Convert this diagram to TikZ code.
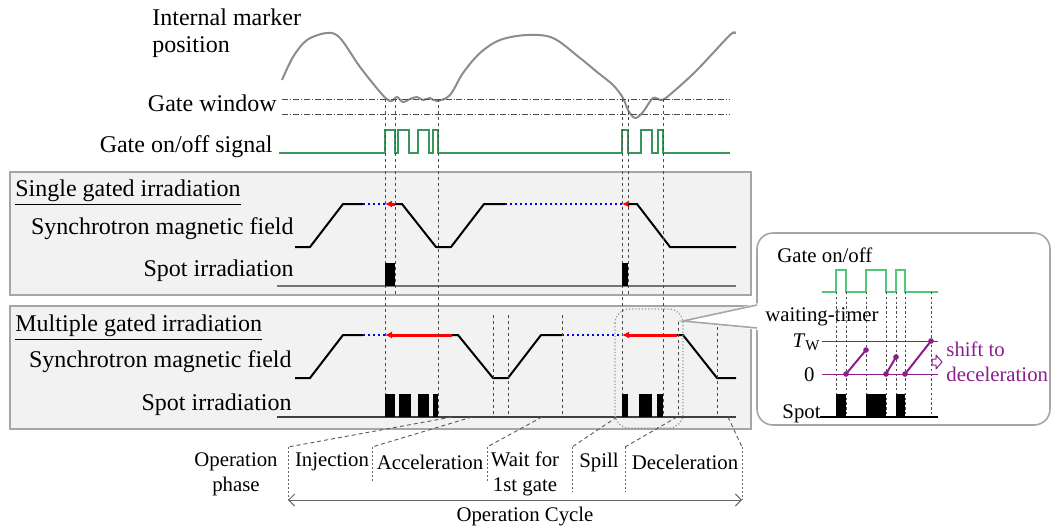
\documentclass[tikz,border=0pt]{standalone}
\usepackage{fontspec}
\setmainfont{Liberation Serif}
\usetikzlibrary{arrows.meta}

\definecolor{gatecol}{RGB}{56,150,90}
\definecolor{gatelite}{RGB}{80,200,120}
\definecolor{timercol}{RGB}{140,30,140}
\definecolor{boxfill}{RGB}{242,242,242}
\definecolor{boxline}{RGB}{166,166,166}

\begin{document}
\begin{tikzpicture}[x=0.5pt,y=-0.5pt,
	txt/.style={font=\fontsize{12}{13.5}\selectfont,inner sep=0pt},
	smalltxt/.style={font=\fontsize{10.4}{12.5}\selectfont,inner sep=0pt},
	panel/.style={draw=boxline,fill=boxfill,line width=0.7pt},
	field/.style={line width=1pt,line join=round},
	waitline/.style={blue,line width=1pt,dash pattern=on 0.9pt off 1.6pt},
	beam/.style={red,line width=1.5pt,{Latex[length=3.5pt,width=3.5pt]}-},
	gateguide/.style={black!70,line width=0.45pt,dash pattern=on 1.6pt off 1.4pt},
	phasesep/.style={black!60,line width=0.45pt,dash pattern=on 1pt off 1pt},
	phaselink/.style={black!65,line width=0.45pt,dash pattern=on 2pt off 1.5pt},
	gatesig/.style={gatecol,line width=0.8pt},
	spotline/.style={black!55,line width=0.75pt},
	timerline/.style={timercol,line width=1pt},
	tdot/.style={circle,fill=timercol,inner sep=0pt,minimum size=2.8pt}]

	\useasboundingbox (0,0) rectangle (1053,531);

	% marker, gate window and gate signal
	\node[txt,anchor=west,align=left] (marker) at (152,33) {Internal marker\\position};
	\node[txt,anchor=east] (window) at (277,103) {Gate window};
	\node[txt,anchor=east] (signal) at (273,147) {Gate on/off signal};

	\draw[black!45,line width=1pt] plot[smooth,tension=0.55] coordinates {
		(282,80) (293,57) (307,40) (327,33) (340,38) (360,67) (380,92) (388,100)
		(392,101) (397,97) (403,102) (410,99) (417,97) (423,100) (430,98) (437,101)
		(450,95) (463,73) (480,53) (500,40) (527,35) (553,38) (580,58) (597,72)
		(613,85) (623,98) (628,110) (635,118) (643,112) (653,98) (662,100)
		(673,92) (697,70) (730,35) (735,34)};
	\draw[black!70,line width=0.45pt,densely dashdotted] (282,99) -- (730,99);
	\draw[black!70,line width=0.45pt,densely dashdotted] (282,114) -- (730,114);

	\draw[gatesig] (279,153) -- (385,153) -- (385,130) -- (395,130) -- (395,153)
		-- (398,153) -- (398,130) -- (409,130) -- (409,153) -- (418,153) -- (418,130)
		-- (429,130) -- (429,153) -- (433,153) -- (433,130) -- (438,130) -- (438,153)
		-- (622,153) -- (622,130) -- (628,130) -- (628,153) -- (641,153) -- (641,130)
		-- (652,130) -- (652,153) -- (658,153) -- (658,130) -- (663,130) -- (663,153)
		-- (730,153);

	% single gated irradiation
	\draw[panel] (10,172) rectangle (751,295);
	\node[txt,anchor=west] (single) at (15,193) {\underline{Single gated irradiation}};
	\node[txt,anchor=east] (fieldA) at (294,229) {Synchrotron magnetic field};
	\node[txt,anchor=east] (spotA) at (294,271) {Spot irradiation};

	\draw[field] (295,247) -- (310,247) -- (343,204) -- (363,204);
	\draw[waitline] (363,204) -- (385,204);
	\draw[beam] (385,204) -- (395,204);
	\draw[field] (395,204) -- (402,204) -- (436,247) -- (451,247) -- (484,204) -- (505,204);
	\draw[waitline] (505,204) -- (622,204);
	\draw[beam] (622,204) -- (628,204);
	\draw[field] (628,204) -- (637,204) -- (670,247) -- (736,247);
	\draw[spotline] (277,286) -- (736,286);

	% multiple gated irradiation
	\draw[panel] (10,306) rectangle (751,429);
	\node[txt,anchor=west] (multiple) at (15,328) {\underline{Multiple gated irradiation}};
	\node[txt,anchor=east] (fieldB) at (292,362) {Synchrotron magnetic field};
	\node[txt,anchor=east] (spotB) at (292,405) {Spot irradiation};

	\draw[field] (295,378) -- (310,378) -- (343,335) -- (363,335);
	\draw[waitline] (363,335) -- (385,335);
	\draw[beam] (385,335) -- (452,335);
	\draw[field] (452,335) -- (458,335) -- (493,378) -- (508,378) -- (541,335) -- (562,335);
	\draw[waitline] (562,335) -- (622,335);
	\draw[beam] (622,335) -- (677,335);
	\draw[field] (677,335) -- (683,335) -- (717,378) -- (736,378);
	\draw[spotline,black!75] (277,417) -- (736,417);

	% gate guides
	\foreach \x in {385,438,622,663}
		\draw[gateguide] (\x,99) -- (\x,417);
	\foreach \x in {395,628}
		\draw[gateguide] (\x,99) -- (\x,295);
	\foreach \x in {493,508,562}
		\draw[gateguide] (\x,315) -- (\x,417);
	\draw[gateguide] (678,322) -- (678,417);
	\draw[gateguide] (717,327) -- (717,417);

	% spots
	\fill (385,263) rectangle (395,286);
	\fill (622,263) rectangle (628,286);
	\foreach \a/\b in {385/395,399/411,418/429,433/438,622/628,639/652,657/663}
		\fill (\a,394) rectangle (\b,417);

	\draw[black!40,line width=0.6pt,densely dotted,rounded corners=7pt] (615,309) rectangle (683,428);

	% callout
	\draw[boxline,line width=0.8pt,fill=white,rounded corners=8pt] (757,233) rectangle (1050,425);
	\fill[white] (683,321) -- (759,303) -- (759,330) -- cycle;
	\draw[boxline,line width=0.8pt] (757,305) -- (683,321) -- (757,328);

	\node[smalltxt,anchor=west] (gateC) at (777,255) {Gate on/off};
	\draw[gatelite,line width=0.8pt] (822,292) -- (836,292) -- (836,270) -- (846,270)
		-- (846,292) -- (866,292) -- (866,270) -- (886,270) -- (886,292) -- (896,292)
		-- (896,270) -- (905,270) -- (905,292) -- (938,292);
	\node[smalltxt,anchor=west] (timerC) at (765,317) {waiting-timer};
	\foreach \x in {836,846,866,886,896,905,931}
		\draw[black!70,line width=0.45pt,dash pattern=on 1.2pt off 1.2pt] (\x,292) -- (\x,417);

	\draw[timercol,line width=0.5pt] (822,341) -- (938,341);
	\draw[timercol,line width=0.5pt] (822,374) -- (938,374);
	\node[smalltxt,anchor=east] (tw) at (820,342) {\textit{T}\raisebox{-0.35ex}{\fontsize{7.5}{8}\selectfont W}};
	\node[smalltxt,anchor=east] (zero) at (815,375) {0};

	\draw[timerline] (846,374) -- (866,350);
	\draw[timerline] (886,374) -- (896,357);
	\draw[timerline] (905,374) -- (931,341);
	\foreach \p in {(846,374),(866,350),(886,374),(896,357),(905,374),(931,341)}
		\node[tdot] at \p {};

	\draw[timercol,line width=0.5pt,line join=round] (932,359) -- (936,359) -- (936,355)
		-- (942,362) -- (936,369) -- (936,365) -- (932,365) -- cycle;
	\node[smalltxt,anchor=west,align=left,text=timercol] (shift) at (946,362) {shift to\\deceleration};

	\node[smalltxt,anchor=base east] (spotC) at (821,418) {Spot};
	\draw[black,line width=0.6pt] (820,417) -- (938,417);
	\foreach \a/\b in {836/846,866/886,896/905}
		\fill (\a,394) rectangle (\b,417);

	% operation phases
	\node[smalltxt,align=center] (phase) at (236,474) {Operation\\phase};
	\node[smalltxt] (inj) at (332,462) {Injection};
	\node[smalltxt] (acc) at (430,462) {Acceleration};
	\node[smalltxt,align=center] (wait) at (525,474) {Wait for\\1st gate};
	\node[smalltxt] (spill) at (599,462) {Spill};
	\node[smalltxt] (dec) at (685,462) {Deceleration};
	\node[smalltxt] (cycle) at (525,517) {Operation Cycle};

	\coordinate (t1) at (452,417); \coordinate (s1) at (288,447); \coordinate (e1) at (288,500);
	\coordinate (t2) at (472,417); \coordinate (s2) at (372,447); \coordinate (e2) at (372,483);
	\coordinate (t3) at (542,417); \coordinate (s3) at (487,447); \coordinate (e3) at (487,483);
	\coordinate (t4) at (617,417); \coordinate (s4) at (572,447); \coordinate (e4) at (572,492);
	\coordinate (t5) at (677,417); \coordinate (s5) at (625,447); \coordinate (e5) at (625,492);
	\coordinate (t6) at (728,417); \coordinate (s6) at (742,447); \coordinate (e6) at (742,500);

	\foreach \i in {1,...,6} {
		\draw[phaselink] (t\i) -- (s\i);
		\draw[phasesep] (s\i) -- (e\i);
	}
	\draw[black!60,line width=0.5pt,{Straight Barb[length=3pt]}-{Straight Barb[length=3pt]}] (e1) -- (e6);
\end{tikzpicture}
\end{document}
